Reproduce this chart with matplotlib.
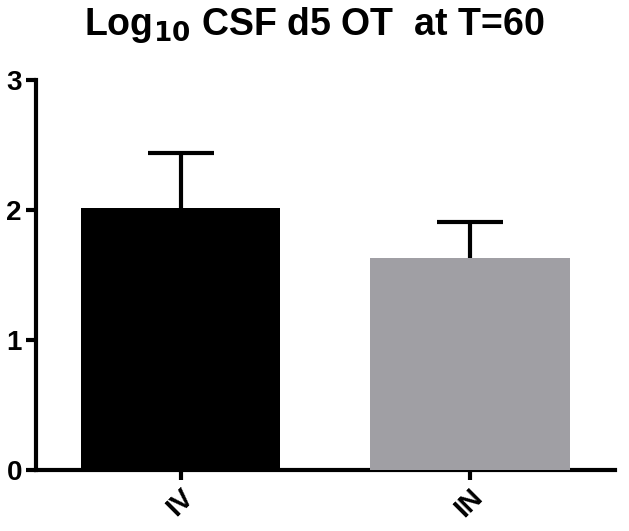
import matplotlib.pyplot as plt

groups = ['IV', 'IN']
means = [2.02, 1.635]
errs = [0.42, 0.275]
colors = ['#000000', '#a09fa4']

plt.rcParams['font.family'] = ['Liberation Sans', 'DejaVu Sans']
plt.rcParams['font.weight'] = 'bold'
plt.rcParams['mathtext.default'] = 'bf'

fig = plt.figure(figsize=(6.29, 5.31), dpi=100)
ax = fig.add_axes([0.057, 0.115, 0.92, 0.734])

x = range(len(groups))
ax.bar(x, means, width=0.69, color=colors, zorder=3)
eb = ax.errorbar(x, means, yerr=[[0] * len(errs), errs], fmt='none', ecolor='black',
                 elinewidth=3, capsize=24, capthick=3, zorder=2)
# hide the zero-length lower caps
eb[1][0].set_visible(False)

ax.set_xlim(-0.5, 1.5)
ax.set_ylim(0, 3)
ax.set_yticks([0, 1, 2, 3])
ax.set_xticks(list(x))
ax.set_xticklabels(groups, rotation=45, ha='right', rotation_mode='anchor')

for s in ['top', 'right']:
    ax.spines[s].set_visible(False)
for s in ['left', 'bottom']:
    ax.spines[s].set_linewidth(3)
    ax.spines[s].set_capstyle('projecting')

ax.tick_params(axis='both', width=3, length=7, labelsize=20, pad=3)
for lab in ax.get_xticklabels() + ax.get_yticklabels():
    lab.set_fontweight('bold')

fig.suptitle(r'Log$_{\mathbf{10}}$ CSF d5 OT  at T=60', x=0.5, y=0.99,
             fontsize=27, fontweight='bold', va='top')

fig.savefig('out.png', dpi=100)
